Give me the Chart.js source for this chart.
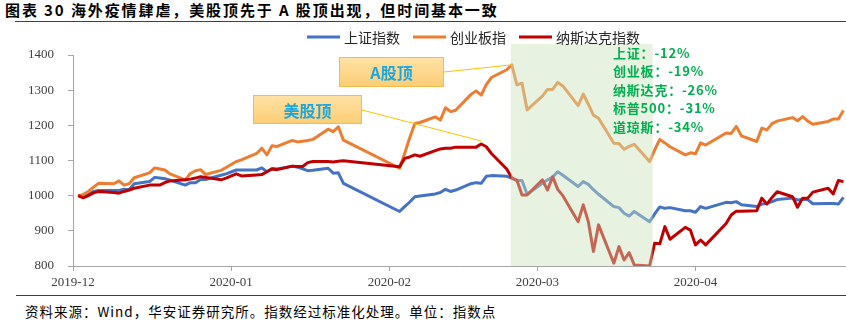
<!DOCTYPE html>
<html>
<head>
<meta charset="utf-8">
<script src="https://cdn.jsdelivr.net/npm/chart.js@4.4.1/dist/chart.umd.min.js"></script>
<style>
	body { margin: 0; background: #fff; }
	#wrap { position: relative; width: 846px; height: 325px; overflow: hidden; font-family: "Noto Sans CJK SC", sans-serif; }
	#title { position: absolute; left: 5px; top: 0; font-size: 15px; font-weight: bold; letter-spacing: 1.9px; line-height: 20px; color: #000; white-space: nowrap; }
	#title-rule { position: absolute; left: 15px; right: 0; top: 21px; border-top: 1.5px solid #404040; }
	#chart-box { position: absolute; left: 0; top: 24px; width: 846px; height: 268px; }
	#foot-rule { position: absolute; left: 16px; right: 0; top: 295px; border-top: 1px solid #404040; }
	#source { position: absolute; left: 25px; top: 302px; font-size: 13.5px; letter-spacing: 1px; line-height: 18px; color: #000; white-space: nowrap; }
</style>
</head>
<body>
<div id="wrap">
	<div id="title">图表 30 海外疫情肆虐，美股顶先于 A 股顶出现，但时间基本一致</div>
	<div id="title-rule"></div>
	<div id="chart-box"><canvas id="idx_chart" width="846" height="268"></canvas></div>
	<div id="foot-rule"></div>
	<div id="source">资料来源：Wind，华安证券研究所。指数经过标准化处理。单位：指数点</div>
</div>
<script>
// A股交易日，三个指数都按这些日期对齐
var tradeDays = [
	'2019-12-02','2019-12-03','2019-12-04','2019-12-05','2019-12-06',
	'2019-12-09','2019-12-10','2019-12-11','2019-12-12','2019-12-13',
	'2019-12-16','2019-12-17','2019-12-18','2019-12-19','2019-12-20',
	'2019-12-23','2019-12-24','2019-12-25','2019-12-26','2019-12-27',
	'2019-12-30','2019-12-31',
	'2020-01-02','2020-01-03',
	'2020-01-06','2020-01-07','2020-01-08','2020-01-09','2020-01-10',
	'2020-01-13','2020-01-14','2020-01-15','2020-01-16','2020-01-17',
	'2020-01-20','2020-01-21','2020-01-22','2020-01-23',
	'2020-02-03','2020-02-04','2020-02-05','2020-02-06','2020-02-07',
	'2020-02-10','2020-02-11','2020-02-12','2020-02-13','2020-02-14',
	'2020-02-17','2020-02-18','2020-02-19','2020-02-20','2020-02-21',
	'2020-02-24','2020-02-25','2020-02-26','2020-02-27','2020-02-28',
	'2020-03-02','2020-03-03','2020-03-04','2020-03-05','2020-03-06',
	'2020-03-09','2020-03-10','2020-03-11','2020-03-12','2020-03-13',
	'2020-03-16','2020-03-17','2020-03-18','2020-03-19','2020-03-20',
	'2020-03-23','2020-03-24','2020-03-25','2020-03-26','2020-03-27',
	'2020-03-30','2020-03-31',
	'2020-04-01','2020-04-02','2020-04-03',
	'2020-04-07','2020-04-08','2020-04-09','2020-04-10',
	'2020-04-13','2020-04-14','2020-04-15','2020-04-16','2020-04-17',
	'2020-04-20','2020-04-21','2020-04-22','2020-04-23','2020-04-24',
	'2020-04-27','2020-04-28','2020-04-29','2020-04-30'
];

var shIndex = [
	1000,1000,1003,1012,1015, 1015,1015,1018,1017,1034, 1040,1052,1050,1048,1044, 1030,1037,1037,1046,1046, 1058,1062,
	1073,1073, 1073,1079,1068,1077,1076, 1084,1081,1076,1071,1072, 1078,1064,1065,1035,
	955,969,982,997,999, 1005,1009,1018,1012,1016, 1034,1037,1035,1055,1057, 1055,1050,1043,1043,1004,
	1035,1045,1053,1068,1058, 1026,1040,1032,1017,1004, 969,966,950,942,955, 926,948,968,964,966, 957,957,
	953,969,964, 981,980,983,974, 969,976,978,983,989, 993,988,989,989,977, 978,978,976,995
];

var cybIndex = [
	1000,1003,1012,1024,1035, 1034,1042,1030,1034,1051, 1065,1079,1076,1073,1062, 1045,1063,1071,1074,1060, 1072,1080,
	1097,1102, 1120,1135,1116,1142,1140, 1157,1153,1155,1157,1160, 1189,1182,1196,1158,
	1078,1120,1165,1205,1208, 1224,1215,1250,1239,1243, 1288,1298,1286,1316,1336, 1358,1372,1315,1320,1244,
	1283,1302,1302,1322,1312, 1256,1289,1260,1229,1220, 1149,1148,1132,1140,1146, 1097,1130,1160,1150,1139, 1116,1122,
	1119,1150,1144, 1178,1177,1197,1170, 1154,1192,1187,1205,1212, 1222,1213,1225,1212,1203, 1211,1218,1218,1242
];

var ndxIndex = [
	1000,994,1000,1008,1012, 1009,1007,1012,1016,1021, 1030,1030,1030,1037,1042, 1045,1047,1050,1054,1052, 1045,1050,
	1062,1056, 1059,1060,1068,1076,1074, 1084,1083,1083,1094,1097, 1097,1096,1098,1099,
	1082,1106,1110,1116,1112, 1128,1133,1135,1135,1138, 1138,1138,1147,1139,1120, 1076,1050,1044,1002,1002,
	1045,1016,1054,1018,1000, 926,974,926,841,917, 808,855,817,838,803, 800,865,863,912,876, 910,902,
	860,874,860, 921,945,956,956, 957,993,976,995,1011, 997,967,993,993,1010, 1021,1005,1043,1040
];

var seriesNames = ['上证指数', '创业板指', '纳斯达克指数'];
var seriesColors = ['#4472c4', '#ed7d31', '#c00000'];

var monthStarts = ['2019-12-01', '2020-01-01', '2020-02-01', '2020-03-01', '2020-04-01'];
var monthLabels = ['2019-12', '2020-01', '2020-02', '2020-03', '2020-04'];

var drawdownNotes = ['上证：-12%', '创业板：-19%', '纳斯达克：-26%', '标普500：-31%', '道琼斯：-34%'];

// 阴影区间：A股见顶 -> 美股见底
var shadeFrom = '2020-02-25', shadeTo = '2020-03-23';
var aTop = '2020-02-25', usTop = '2020-02-19';

function dayOf(s){
	var p = s.split('-');
	return (Date.UTC(+p[0], p[1] - 1, +p[2]) - Date.UTC(2019, 11, 1)) / 86400000;
}
function toPoints(vals){
	return tradeDays.map(function(d, i){ return {x: dayOf(d), y: vals[i]}; });
}
function valueAt(vals, date){
	return vals[tradeDays.indexOf(date)];
}

function makeSet(i, vals, order){
	return {
		label: seriesNames[i],
		data: toPoints(vals),
		borderColor: seriesColors[i],
		backgroundColor: seriesColors[i],
		borderWidth: 3,
		borderJoinStyle: 'round',
		pointRadius: 0,
		tension: 0,
		order: order
	};
}

var overlayPlugin = {
	id: 'overlay',
	afterDatasetsDraw: function(chart){
		var ctx = chart.ctx, xs = chart.scales.x, ys = chart.scales.y, area = chart.chartArea;
		ctx.save();

		// 绿色阴影盖在折线上面
		var x0 = xs.getPixelForValue(dayOf(shadeFrom)) - 1;
		var x1 = xs.getPixelForValue(dayOf(shadeTo)) + 3;
		ctx.fillStyle = 'rgba(204,226,186,0.45)';
		ctx.fillRect(x0, area.top - 11, x1 - x0, area.bottom - area.top + 11);

		ctx.fillStyle = '#00b050';
		ctx.font = 'bold 13px "Noto Sans CJK SC"';
		ctx.letterSpacing = '0.8px';
		ctx.textBaseline = 'middle';
		for(var i = 0; i < drawdownNotes.length; i++){
			ctx.fillText(drawdownNotes[i], 613, 29 + i * 18.4);
		}
		ctx.letterSpacing = '0px';

		// 标注框和引线
		var aX = xs.getPixelForValue(dayOf(aTop)), aY = ys.getPixelForValue(valueAt(cybIndex, aTop));
		var uX = xs.getPixelForValue(dayOf(usTop)), uY = ys.getPixelForValue(valueAt(ndxIndex, usTop));
		ctx.strokeStyle = '#ffc000';
		ctx.lineWidth = 1;
		ctx.beginPath();
		ctx.moveTo(444, 48); ctx.lineTo(aX, aY);
		ctx.moveTo(362, 86); ctx.lineTo(uX, uY - 3);
		ctx.stroke();

		drawTag(ctx, 339, 33, 105, 30, 'A股顶');
		drawTag(ctx, 253, 71, 109, 29, '美股顶');
		ctx.restore();
	},
	afterDraw: function(chart){
		// 顶部图例
		var ctx = chart.ctx, x = 307, y = 13;
		ctx.save();
		ctx.font = '14px "Noto Sans CJK SC"';
		ctx.textBaseline = 'middle';
		chart.data.datasets.forEach(function(ds){
			ctx.strokeStyle = ds.borderColor;
			ctx.lineWidth = 3;
			ctx.beginPath();
			ctx.moveTo(x, y); ctx.lineTo(x + 33, y);
			ctx.stroke();
			ctx.fillStyle = '#262626';
			ctx.fillText(ds.label, x + 37, y + 1);
			x += 37 + ctx.measureText(ds.label).width + 13;
		});
		ctx.restore();
	}
};

function drawTag(ctx, x, y, w, h, text){
	var g = ctx.createLinearGradient(0, y, 0, y + h);
	g.addColorStop(0, '#fee2a6');
	g.addColorStop(1, '#fccd74');
	ctx.fillStyle = g;
	ctx.fillRect(x, y, w, h);
	ctx.strokeStyle = '#f6bb4c';
	ctx.lineWidth = 1;
	ctx.strokeRect(x + 0.5, y + 0.5, w - 1, h - 1);
	ctx.fillStyle = '#1ba6e0';
	ctx.font = 'bold 16px "Noto Sans CJK SC"';
	ctx.textAlign = 'center';
	ctx.textBaseline = 'middle';
	ctx.fillText(text, x + w / 2, y + h / 2 + 1);
	ctx.textAlign = 'left';
}

var axisColor = '#a6a6a6';
var tickFont = {family: 'Liberation Serif, serif', size: 13};

var myChart = new Chart(document.getElementById('idx_chart'), {
	type: 'line',
	data: {
		datasets: [
			makeSet(0, shIndex, 2),
			makeSet(1, cybIndex, 1),
			makeSet(2, ndxIndex, 0)
		]
	},
	options: {
		responsive: false,
		animation: false,
		devicePixelRatio: 1,
		layout: {padding: {top: 31, right: 0.5, left: 0, bottom: 0}},
		plugins: {
			legend: {display: false},
			tooltip: {enabled: false}
		},
		scales: {
			x: {
				type: 'linear',
				min: 0,
				max: 151.4,
				afterBuildTicks: function(scale){
					scale.ticks = monthStarts.map(function(m){ return {value: dayOf(m)}; });
				},
				afterFit: function(scale){ scale.height = 26; },
				ticks: {
					autoSkip: false,
					maxRotation: 0,
					padding: 4,
					color: '#404040',
					font: tickFont,
					callback: function(v){ return monthLabels[monthStarts.map(dayOf).indexOf(v)]; }
				},
				grid: {drawOnChartArea: false, tickLength: 5, color: axisColor},
				border: {color: axisColor}
			},
			y: {
				min: 800,
				max: 1400,
				afterFit: function(scale){ scale.width = 73; },
				ticks: {
					stepSize: 100,
					padding: 14,
					color: '#404040',
					font: tickFont,
					callback: function(v){ return String(v); }
				},
				grid: {drawOnChartArea: false, tickLength: 5, color: axisColor},
				border: {color: axisColor}
			}
		}
	},
	plugins: [overlayPlugin]
});
</script>
</body>
</html>
